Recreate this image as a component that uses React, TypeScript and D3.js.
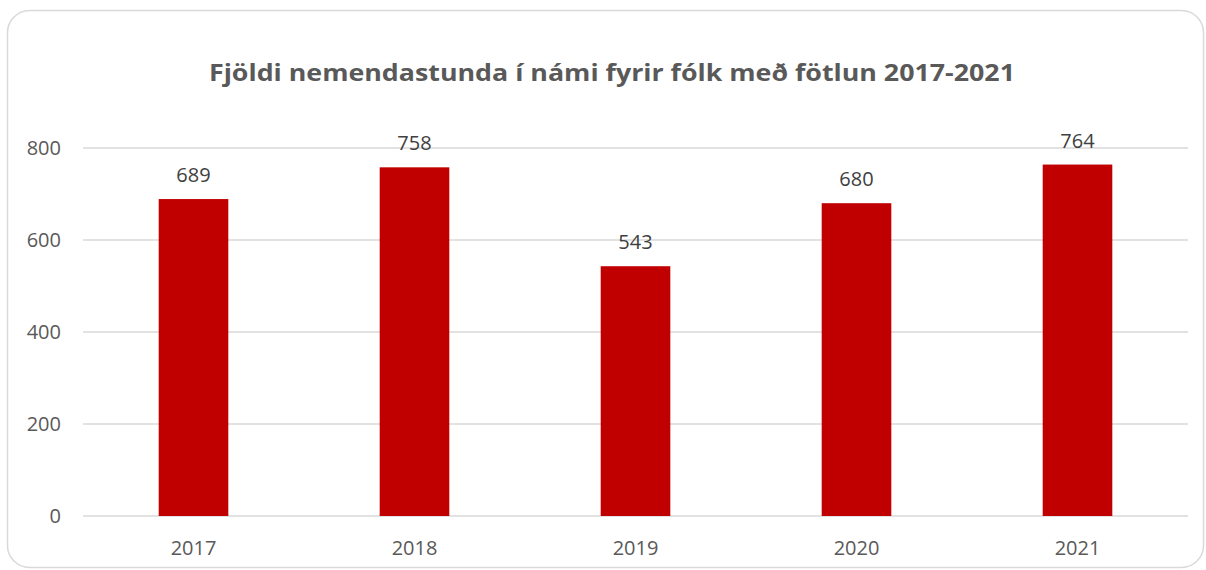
import React from "react";
import * as d3 from "d3";

const categories = ["2017", "2018", "2019", "2020", "2021"];
const values = [689, 758, 543, 680, 764];
const yTicks = [0, 200, 400, 600, 800];
const title = "Fjöldi nemendastunda í námi fyrir fólk með fötlun 2017-2021";

export default function App() {
  const W = 1206, H = 570;
  const left = 83, right = 1188, top = 148, bottom = 516;
  const x = d3.scaleBand<string>().domain(categories).range([left, right]).paddingInner(0.685).paddingOuter(0.3425);
  const y = d3.scaleLinear().domain([0, 800]).range([bottom, top]);
  const font = "'Open Sans', 'Liberation Sans', sans-serif";
  return (
    <svg width={W} height={H} style={{ position: "absolute", left: 0, top: 0 }} fontFamily={font}>
      <rect x={0} y={0} width={W} height={H} fill="#fff" />
      <rect x={7.5} y={10.5} width={1196} height={557} rx={22} ry={22} fill="#fff" stroke="#d9d9d9" strokeWidth={1.5} />
      <text x={612} y={81} textAnchor="middle" fontSize={22.5} fontWeight="bold" fill="#595959" textLength={806} lengthAdjust="spacingAndGlyphs">{title}</text>
      {yTicks.map((t) => (
        <g key={t}>
          <line x1={left} x2={right} y1={y(t)} y2={y(t)} stroke="#d9d9d9" strokeWidth={1.3} />
          <text x={61} y={y(t) + 7} textAnchor="end" fontSize={20} fill="#595959">{t}</text>
        </g>
      ))}
      {categories.map((c, i) => (
        <g key={c}>
          <rect x={x(c)} y={y(values[i])} width={x.bandwidth()} height={bottom - y(values[i])} fill="#c00000" />
          <text x={(x(c) as number) + x.bandwidth() / 2} y={y(values[i]) - 17} textAnchor="middle" fontSize={20} fill="#404040">{values[i]}</text>
          <text x={(x(c) as number) + x.bandwidth() / 2} y={555} textAnchor="middle" fontSize={20} fill="#595959">{c}</text>
        </g>
      ))}
    </svg>
  );
}
